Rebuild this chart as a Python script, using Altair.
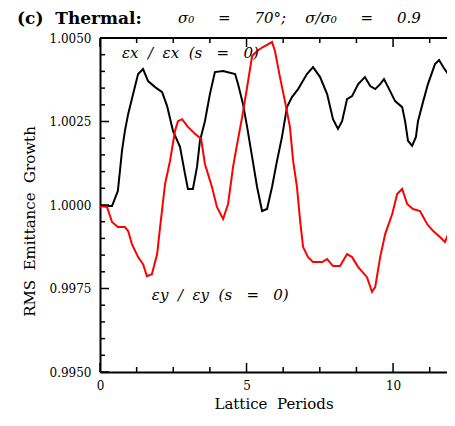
import altair as alt
import pandas as pd

# black curve (horizontal emittance ratio)
black_x = [0.00, 0.41, 0.61, 0.75, 0.85, 0.96, 1.13, 1.30, 1.47, 1.64, 1.88, 2.12, 2.29, 2.49, 2.73, 2.90, 3.00,
           3.17, 3.31, 3.41, 3.58, 3.75, 3.92, 4.20, 4.61, 4.71, 4.88, 5.02, 5.19, 5.36, 5.53, 5.70, 5.87, 6.04,
           6.21, 6.38, 6.55, 6.76, 7.06, 7.27, 7.51, 7.75, 7.95, 8.12, 8.26, 8.43, 8.60, 8.81, 9.04, 9.22, 9.39,
           9.56, 9.69, 9.83, 10.07, 10.31, 10.41, 10.51, 10.65, 10.78, 10.85, 11.02, 11.19, 11.43, 11.57, 11.71,
           11.88, 12.12]
black_y = [0.99997, 0.99997, 1.00042, 1.00162, 1.00222, 1.00272, 1.00332, 1.00392, 1.00407, 1.00371, 1.00353,
           1.00338, 1.00296, 1.00222, 1.00174, 1.00093, 1.00048, 1.00048, 1.00114, 1.00192, 1.00251, 1.00332,
           1.00398, 1.00401, 1.00392, 1.00362, 1.00302, 1.00234, 1.00144, 1.00054, 0.99982, 0.99988, 1.00054,
           1.00132, 1.00204, 1.00293, 1.00323, 1.00347, 1.00392, 1.00413, 1.00383, 1.00332, 1.00257, 1.00228,
           1.00251, 1.00317, 1.00326, 1.00362, 1.00383, 1.00356, 1.00347, 1.00362, 1.00377, 1.00353, 1.00311,
           1.00293, 1.00251, 1.00192, 1.00177, 1.00204, 1.00251, 1.00308, 1.00362, 1.00422, 1.00434, 1.00413,
           1.00392, 1.00383]

# red curve (vertical emittance ratio)
red_x = [0.00, 0.24, 0.41, 0.61, 0.85, 0.96, 1.09, 1.30, 1.47, 1.60, 1.77, 1.95, 2.05, 2.22, 2.39, 2.56, 2.66,
         2.80, 3.00, 3.24, 3.45, 3.58, 3.82, 3.99, 4.20, 4.37, 4.54, 4.68, 4.85, 5.02, 5.19, 5.36, 5.56, 5.87,
         5.97, 6.14, 6.31, 6.48, 6.59, 6.72, 6.83, 6.93, 7.10, 7.27, 7.58, 7.75, 7.95, 8.19, 8.43, 8.60, 8.81,
         9.11, 9.28, 9.39, 9.56, 9.73, 9.97, 10.14, 10.31, 10.48, 10.68, 10.92, 11.16, 11.37, 11.60, 11.77,
         11.88, 12.01, 12.12]
red_y = [0.99997, 0.99994, 0.99949, 0.99934, 0.99934, 0.99922, 0.99883, 0.99844, 0.99823, 0.99787, 0.99793,
         0.99853, 0.99934, 1.00063, 1.00132, 1.00222, 1.00251, 1.00257, 1.00234, 1.00213, 1.00198, 1.00123,
         1.00054, 0.99994, 0.99958, 1.00003, 1.00114, 1.00183, 1.00263, 1.00353, 1.00446, 1.00461, 1.00473,
         1.00488, 1.00461, 1.00383, 1.00311, 1.00234, 1.00132, 1.00054, 0.99952, 0.99874, 0.99844, 0.99829,
         0.99829, 0.99838, 0.99817, 0.99817, 0.99853, 0.99844, 0.99814, 0.99784, 0.99740, 0.99754, 0.99844,
         0.99913, 0.99973, 1.00033, 1.00048, 1.00003, 0.99988, 0.99982, 0.99943, 0.99922, 0.99904, 0.99889,
         0.99913, 0.99973, 1.00078]

x_major = [0, 5, 10]
x_minor = [1.25, 2.5, 3.75, 6.25, 7.5, 8.75, 11.25]
y_major = [0.9950, 0.9975, 1.0000, 1.0025, 1.0050]
y_minor = [0.9955, 0.9960, 0.9965, 0.9970, 0.9980, 0.9985, 0.9990, 0.9995,
           1.0005, 1.0010, 1.0015, 1.0020, 1.0030, 1.0035, 1.0040, 1.0045]

NB = "\u00a0"
label_text = ["εx" + NB * 2 + "/" + NB * 2 + "εx" + NB * 2 + "(s" + NB * 3 + "=" + NB * 3 + "0)",
              "εy" + NB * 2 + "/" + NB * 2 + "εy" + NB * 2 + "(s" + NB * 3 + "=" + NB * 3 + "0)"]
label_x = [0.75, 1.77]
label_y = [1.00440, 0.99716]

title_main = "(c)" + NB * 2 + "Thermal:"
title_rest = ("σ₀" + NB * 5 + "=" + NB * 5 + "70°;" + NB * 4 + "σ/σ₀" + NB * 5 + "=" + NB * 5 + "0.9")

x_title = "Lattice" + NB * 2 + "Periods"
y_title = "RMS" + NB * 2 + "Emittance" + NB * 2 + "Growth"

W, H = 347, 334
FONT = "DejaVu Serif"

xscale = alt.Scale(domain=[0, 11.84], nice=False, zero=False)
yscale = alt.Scale(domain=[0.995, 1.005], nice=False, zero=False)
xaxis = alt.Axis(values=x_major, format="d", title=x_title, labelPadding=8, titlePadding=5,
                 labelFlush=False)
yaxis = alt.Axis(values=y_major, format=".4f", title=y_title, labelPadding=9, titlePadding=12,
                 titleY=183)

black_df = pd.DataFrame({"x": black_x, "y": black_y})
red_df = pd.DataFrame({"x": red_x, "y": red_y})

black_line = alt.Chart(black_df).mark_line(color="black", strokeWidth=2, clip=True).encode(
    x=alt.X("x:Q", scale=xscale, axis=xaxis),
    y=alt.Y("y:Q", scale=yscale, axis=yaxis),
)
red_line = alt.Chart(red_df).mark_line(color="#ff0000", strokeWidth=2, clip=True).encode(
    x=alt.X("x:Q", scale=xscale, axis=xaxis),
    y=alt.Y("y:Q", scale=yscale, axis=yaxis),
)

ymaj_df = pd.DataFrame({"v": y_major})
ymin_df = pd.DataFrame({"v": y_minor})
xmaj_df = pd.DataFrame({"v": x_major})
xmin_df = pd.DataFrame({"v": x_minor})


def yticks(df, length):
    return alt.Chart(df).mark_rule(color="black", strokeWidth=1.5).encode(
        y=alt.Y("v:Q", scale=yscale, axis=yaxis), x=alt.value(0), x2=alt.value(length))


def xticks_bottom(df, length):
    return alt.Chart(df).mark_rule(color="black", strokeWidth=1.5).encode(
        x=alt.X("v:Q", scale=xscale, axis=xaxis), y=alt.value(H), y2=alt.value(H - length))


def xticks_top(df, length):
    return alt.Chart(df).mark_rule(color="black", strokeWidth=1.5).encode(
        x=alt.X("v:Q", scale=xscale, axis=xaxis), y=alt.value(0), y2=alt.value(length))


top_frame = alt.Chart(pd.DataFrame({"a": [0]})).mark_rule(color="black", strokeWidth=2).encode(
    x=alt.value(0), x2=alt.value(W), y=alt.value(0))

lab_df = pd.DataFrame({"t": label_text, "x": label_x, "y": label_y})
labels = alt.Chart(lab_df).mark_text(align="left", baseline="alphabetic", font=FONT, fontStyle="italic",
                                     fontSize=15, color="black").encode(
    x=alt.X("x:Q", scale=xscale, axis=xaxis),
    y=alt.Y("y:Q", scale=yscale, axis=yaxis),
    text="t:N",
)

t1 = alt.Chart(pd.DataFrame({"t": [title_main]})).mark_text(
    align="left", baseline="alphabetic", font=FONT, fontWeight="bold", fontSize=17, color="black"
).encode(x=alt.value(-83), y=alt.value(-14), text="t:N")
t2 = alt.Chart(pd.DataFrame({"t": [title_rest]})).mark_text(
    align="left", baseline="alphabetic", font=FONT, fontStyle="italic", fontSize=15, color="black"
).encode(x=alt.value(78), y=alt.value(-15), text="t:N")

chart = alt.layer(
    black_line, red_line, top_frame,
    yticks(ymaj_df, 9), yticks(ymin_df, 5),
    xticks_bottom(xmaj_df, 9), xticks_bottom(xmin_df, 5),
    xticks_top(xmaj_df, 9), xticks_top(xmin_df, 5),
    labels, t1, t2,
).properties(
    width=W, height=H,
    autosize=alt.AutoSizeParams(type="none"),
    padding={"left": 92, "top": 30, "right": 0, "bottom": 41},
).configure_view(
    stroke="transparent"
).configure_axis(
    labelFont=FONT, labelFontSize=12, labelColor="black",
    titleFont=FONT, titleFontSize=15, titleFontWeight="normal", titleColor="black",
    domainColor="black", domainWidth=2, ticks=False, grid=False,
)

chart.save("out.html", embed_options={"renderer": "svg", "actions": False})
